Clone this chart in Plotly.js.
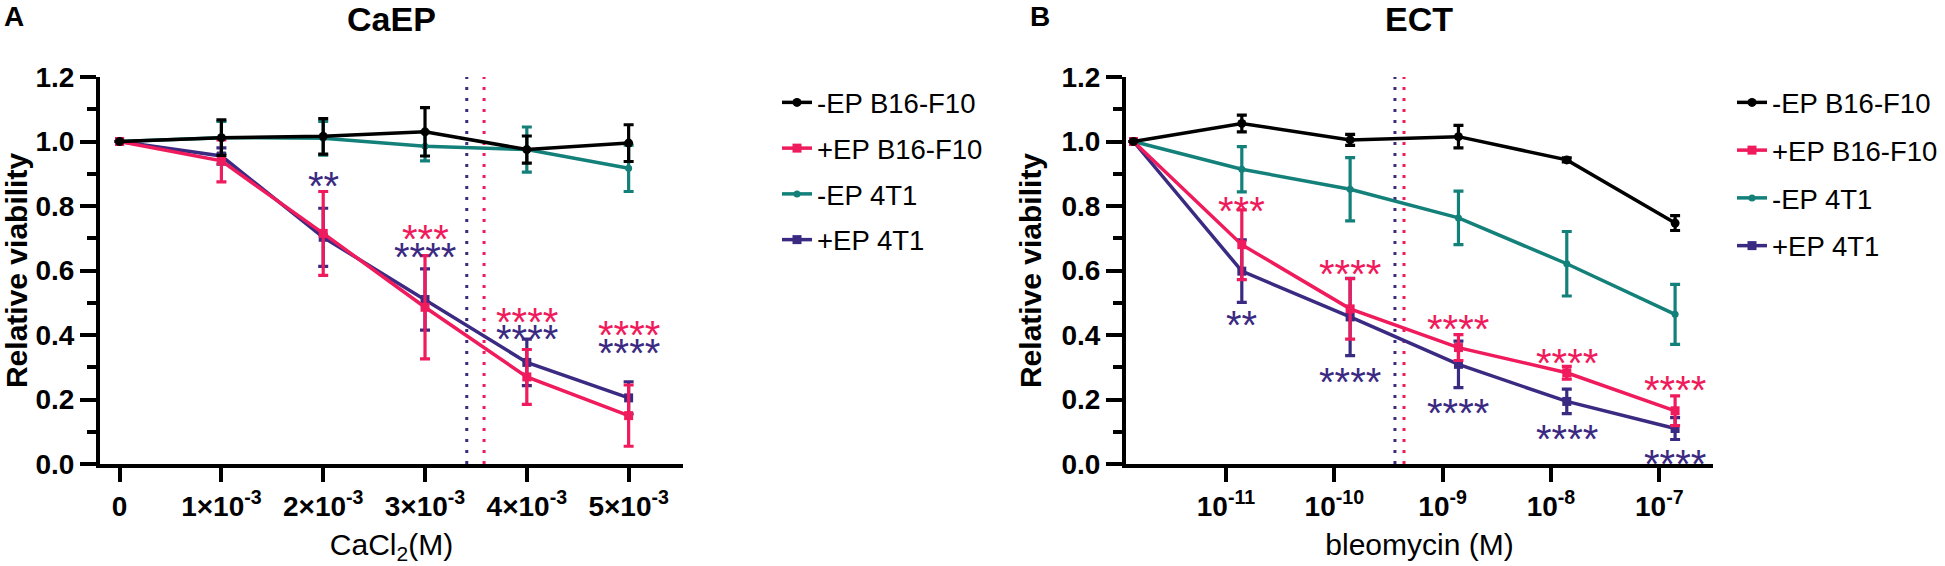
<!DOCTYPE html>
<html>
<head>
<meta charset="utf-8">
<script src="https://cdn.plot.ly/plotly-3.0.1.min.js"></script>
<style>
  html, body { margin: 0; padding: 0; background: #fff; }
  #chart { width: 1945px; height: 566px; }
</style>
</head>
<body>
<div id="chart"></div>
<script>
// ---- data ----
const seriesNames = ['-EP B16-F10', '+EP B16-F10', '-EP 4T1', '+EP 4T1'];

// A: CaEP, CaCl2 concentration (M)
const caConc = [0, 0.001, 0.002, 0.003, 0.004, 0.005];
const caTickText = ['0', '1×10<sup>-3</sup>', '2×10<sup>-3</sup>', '3×10<sup>-3</sup>', '4×10<sup>-3</sup>', '5×10<sup>-3</sup>'];
const caMinusB16 = [1.0, 1.012, 1.016, 1.03, 0.975, 0.995];
const caMinusB16Err = [0, 0.055, 0.055, 0.075, 0.042, 0.057];
const caPlusB16 = [1.0, 0.94, 0.715, 0.486, 0.27, 0.15];
const caPlusB16Err = [0, 0.065, 0.13, 0.16, 0.085, 0.095];
const caMinus4T1 = [1.0, 1.012, 1.01, 0.985, 0.975, 0.917];
const caMinus4T1Err = [0, 0.05, 0.052, 0.045, 0.07, 0.072];
const caPlus4T1 = [1.0, 0.955, 0.703, 0.51, 0.315, 0.205];
const caPlus4T1Err = [0, 0.025, 0.09, 0.095, 0.072, 0.05];
const caIC50 = [0.00341, 0.00358];
const caIC50Series = ['+EP 4T1', '+EP B16-F10'];
const caStarConc = [0.002, 0.003, 0.003, 0.004, 0.004, 0.005, 0.005];
const caStarLevel = [0.891, 0.727, 0.67, 0.471, 0.417, 0.43, 0.373];
const caStarText = ['**', '***', '****', '****', '****', '****', '****'];
const caStarSeries = ['+EP 4T1', '+EP B16-F10', '+EP 4T1', '+EP B16-F10', '+EP 4T1', '+EP B16-F10', '+EP 4T1'];

// B: ECT, bleomycin concentration (M), log axis (control drawn at the left end)
const bleoConc = [1.4e-12, 1.4e-11, 1.4e-10, 1.4e-9, 1.4e-8, 1.4e-7];
const bleoTickVals = [1.19e-12, 1e-11, 1e-10, 1e-9, 1e-8, 1e-7];
const bleoTickText = [' ', '10<sup>-11</sup>', '10<sup>-10</sup>', '10<sup>-9</sup>', '10<sup>-8</sup>', '10<sup>-7</sup>'];
const ectMinusB16 = [1.0, 1.056, 1.005, 1.015, 0.943, 0.747];
const ectMinusB16Err = [0, 0.026, 0.017, 0.035, 0.006, 0.023];
const ectPlusB16 = [1.0, 0.68, 0.481, 0.361, 0.283, 0.165];
const ectPlusB16Err = [0, 0.108, 0.094, 0.04, 0.02, 0.046];
const ectMinus4T1 = [1.0, 0.914, 0.852, 0.763, 0.621, 0.464];
const ectMinus4T1Err = [0, 0.07, 0.098, 0.083, 0.1, 0.093];
const ectPlus4T1 = [1.0, 0.598, 0.456, 0.309, 0.194, 0.11];
const ectPlus4T1Err = [0, 0.097, 0.12, 0.072, 0.038, 0.034];
const ectIC50 = [3.63e-10, 4.4e-10];
const ectIC50Series = ['+EP 4T1', '+EP B16-F10'];
const ectStarConc = [1.4e-11, 1.4e-11, 1.4e-10, 1.4e-10, 1.4e-9, 1.4e-9, 1.4e-8, 1.4e-8, 1.4e-7, 1.4e-7];
const ectStarLevel = [0.814, 0.46, 0.618, 0.283, 0.448, 0.189, 0.342, 0.108, 0.258, 0.028];
const ectStarText = ['***', '**', '****', '****', '****', '****', '****', '****', '****', '****'];
const ectStarSeries = ['+EP B16-F10', '+EP 4T1', '+EP B16-F10', '+EP 4T1', '+EP B16-F10', '+EP 4T1', '+EP B16-F10', '+EP 4T1', '+EP B16-F10', '+EP 4T1'];

// ---- styling ----
const W = 1945, H = 566;
const FONT = 'Liberation Sans, Arial, Helvetica, sans-serif';
const seriesStyles = {
  '-EP B16-F10': { color: '#000000', symbol: 'circle', size: 9, rank: 1 },
  '+EP B16-F10': { color: '#EF1B5C', symbol: 'square', size: 9, rank: 2 },
  '-EP 4T1': { color: '#13807A', symbol: 'circle', size: 7, rank: 3 },
  '+EP 4T1': { color: '#3B2A82', symbol: 'square', size: 9, rank: 4 }
};
const drawOrder = ['-EP 4T1', '+EP 4T1', '+EP B16-F10', '-EP B16-F10'];

function px(x) { return x / W; }
function py(y) { return 1 - y / H; }

function makeTrace(name, x, y, err, axes, legend) {
  const st = seriesStyles[name];
  return {
    type: 'scatter', mode: 'lines+markers', name, x, y,
    xaxis: axes[0], yaxis: axes[1], legend, legendgroup: legend + name,
    legendrank: st.rank,
    line: { color: st.color, width: 3.5 },
    marker: { color: st.color, symbol: st.symbol, size: st.size },
    error_y: { type: 'data', array: err, visible: true, color: st.color, thickness: 3.2, width: 5 },
    hoverinfo: 'skip'
  };
}

function starNotes(xs, ys, texts, series, xref, yref) {
  return xs.map((x, i) => ({
    x: xref === 'x2' ? Math.log10(x) : x, y: ys[i], xref, yref,
    xanchor: 'center', yanchor: 'middle',
    text: texts[i], showarrow: false, yshift: -9.5,
    font: { family: FONT, size: 40, color: seriesStyles[series[i]].color }
  }));
}

function icLines(values, series, xref) {
  return values.map((v, i) => ({
    type: 'line', layer: 'below', xref, yref: xref === 'x' ? 'y domain' : 'y2 domain',
    x0: v, x1: v, y0: 0, y1: 1,
    line: { color: seriesStyles[series[i]].color, width: 3, dash: '3px,8px' }
  }));
}

// bold text placed in page pixels (panel letters and panel titles)
function label(text, xPx, yPx, size) {
  return {
    text, x: px(xPx), xref: 'paper', y: py(yPx), yref: 'paper',
    xanchor: 'center', yanchor: 'middle', showarrow: false,
    font: { family: FONT, size, color: '#000', weight: 'bold' }
  };
}

const caData = {
  '-EP B16-F10': [caMinusB16, caMinusB16Err], '+EP B16-F10': [caPlusB16, caPlusB16Err],
  '-EP 4T1': [caMinus4T1, caMinus4T1Err], '+EP 4T1': [caPlus4T1, caPlus4T1Err]
};
const ectData = {
  '-EP B16-F10': [ectMinusB16, ectMinusB16Err], '+EP B16-F10': [ectPlusB16, ectPlusB16Err],
  '-EP 4T1': [ectMinus4T1, ectMinus4T1Err], '+EP 4T1': [ectPlus4T1, ectPlus4T1Err]
};

const traces = [];
drawOrder.forEach((name) => traces.push(makeTrace(name, caConc, caData[name][0], caData[name][1], ['x', 'y'], 'legend')));
drawOrder.forEach((name) => traces.push(makeTrace(name, bleoConc, ectData[name][0], ectData[name][1], ['x2', 'y2'], 'legend2')));

function xAxisBase(extra) {
  return Object.assign({
    showline: true, linecolor: '#000', linewidth: 4, showgrid: false, zeroline: false,
    ticks: 'outside', ticklen: 14, tickwidth: 4, tickcolor: '#000',
    tickfont: { family: FONT, size: 28, color: '#000', weight: 'bold' }
  }, extra);
}
function yAxisBase(extra) {
  return Object.assign({
    range: [0, 1.2], dtick: 0.2, tick0: 0, tickformat: '.1f',
    domain: [py(464), py(77)],
    showline: true, linecolor: '#000', linewidth: 4, showgrid: false, zeroline: false,
    ticks: 'outside', ticklen: 16, tickwidth: 4, tickcolor: '#000',
    minor: { dtick: 0.1, ticks: 'outside', ticklen: 9, tickwidth: 4, tickcolor: '#000', showgrid: false },
    tickfont: { family: FONT, size: 28, color: '#000', weight: 'bold' },
    title: { text: 'Relative viability', standoff: 12, font: { family: FONT, size: 30, color: '#000', weight: 'bold' } }
  }, extra);
}

// narrow enough that the right legend stays inside the page (no margin push)
function legendBox(xPx, gap) {
  return {
    x: px(xPx), xanchor: 'left', y: py(78), yanchor: 'top',
    font: { family: FONT, size: 27.5, color: '#000' },
    bgcolor: 'rgba(0,0,0,0)', itemwidth: 30, tracegroupgap: gap, traceorder: 'grouped'
  };
}

const layout = {
  width: W, height: H,
  margin: { l: 0, r: 0, t: 0, b: 0 },
  paper_bgcolor: '#fff', plot_bgcolor: 'rgba(0,0,0,0)',
  font: { family: FONT, color: '#000' },
  showlegend: true,
  xaxis: xAxisBase({
    domain: [px(100), px(683)], range: [-0.0001925, 0.005534], anchor: 'y',
    tickvals: caConc, ticktext: caTickText,
    title: { text: 'CaCl<sub>2</sub>(M)', standoff: 14, font: { family: FONT, size: 30, color: '#000' } }
  }),
  yaxis: yAxisBase({ anchor: 'x' }),
  xaxis2: xAxisBase({
    type: 'log', domain: [px(1126), px(1713)], range: [-11.923, -6.504], anchor: 'y2',
    tickvals: bleoTickVals, ticktext: bleoTickText,
    title: { text: 'bleomycin (M)', standoff: 14, font: { family: FONT, size: 30, color: '#000' } }
  }),
  yaxis2: yAxisBase({ anchor: 'x2' }),
  legend: legendBox(777, 7),
  legend2: legendBox(1732, 9),
  shapes: [...icLines(caIC50, caIC50Series, 'x'), ...icLines(ectIC50, ectIC50Series, 'x2')],
  annotations: [
    label('A', 14, 17, 28),
    label('B', 1040, 17, 28),
    label('CaEP', 391, 19, 34),
    label('ECT', 1419, 19, 34),
    ...starNotes(caStarConc, caStarLevel, caStarText, caStarSeries, 'x', 'y'),
    ...starNotes(ectStarConc, ectStarLevel, ectStarText, ectStarSeries, 'x2', 'y2')
  ]
};

Plotly.newPlot('chart', traces, layout, { displayModeBar: false, staticPlot: true });
</script>
</body>
</html>
